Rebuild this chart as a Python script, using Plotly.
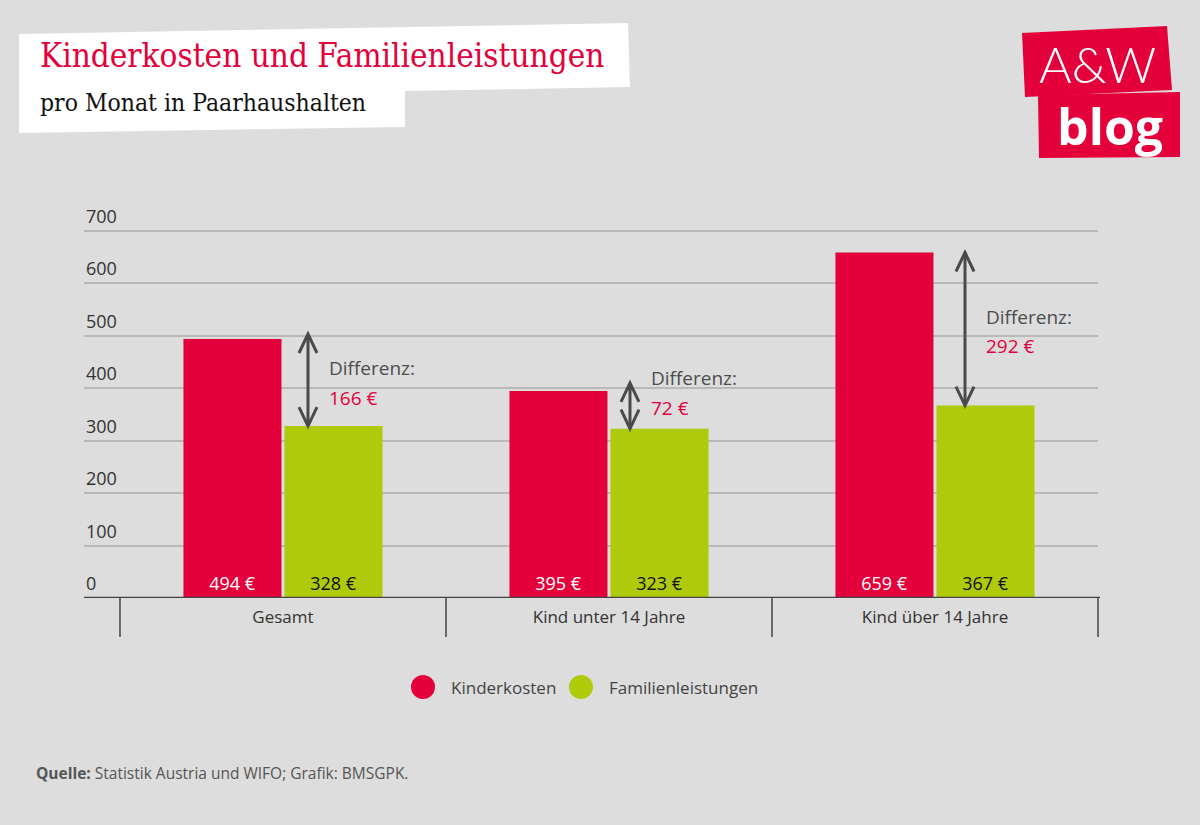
import plotly.graph_objects as go

# ---------------- data ----------------
categories = ["Gesamt", "Kind unter 14 Jahre", "Kind über 14 Jahre"]
kinderkosten = [494, 395, 659]
familienleistungen = [328, 323, 367]
differenz = [166, 72, 292]
y_ticks = [0, 100, 200, 300, 400, 500, 600, 700]
series_names = ["Kinderkosten", "Familienleistungen"]

# ---------------- styles ----------------
W, H = 1200, 825
RED = "#e4003a"
GREEN = "#afca0b"
BG = "#dddddd"
GRID = "#b9b9b9"
DARK = "#444444"
TXT = "#333333"
ARROW = "#4a4a4a"
FONT = "Open Sans"
SERIF = "DejaVu Serif Condensed, Liberation Serif, serif"

X_DOM_PX = (84, 1098)
Y0_PX = 598                    # pixel row of value 0
PX_PER_UNIT = 0.52429          # pixels per value unit
Y_MAX = 710
X_RANGE = [-0.6104, 2.5]
ARROW_DX = [25, 21, 30]        # px offset of arrows from category centre
ARROW_TOP_EXT = [5, 8, 0]      # px the arrow tip sits above the red bar
LABEL_DY = [0, 17, -2]         # px vertical tweak of "Differenz" blocks


def px(x):
    return x / W


def py(y):
    return 1 - y / H


x_idx = list(range(len(categories)))

fig = go.Figure()
fig.add_trace(go.Bar(
    x=x_idx, y=kinderkosten, name=series_names[0], marker_color=RED,
    marker_line_width=0, texttemplate="%{y} €", textposition="inside",
    insidetextanchor="start", textangle=0,
    textfont=dict(color="white", size=18, family=FONT), showlegend=False,
    hoverinfo="skip"))
fig.add_trace(go.Bar(
    x=x_idx, y=familienleistungen, name=series_names[1], marker_color=GREEN,
    marker_line_width=0, texttemplate="%{y} €", textposition="inside",
    insidetextanchor="start", textangle=0,
    textfont=dict(color="#111111", size=18, family=FONT), showlegend=False,
    hoverinfo="skip"))

shapes = []
annotations = []

# title box
shapes.append(dict(type="path", xref="paper", yref="paper", layer="below",
                   path=("M {},{} L {},{} L {},{} L {},{} L {},{} L {},{} Z".format(
                       px(19), py(34), px(628), py(23), px(630), py(87),
                       px(405), py(91), px(405), py(127), px(19), py(133))),
                   fillcolor="white", line_width=0))
# logo boxes
shapes.append(dict(type="path", xref="paper", yref="paper",
                   path="M {},{} L {},{} L {},{} L {},{} Z".format(
                       px(1022), py(33), px(1167), py(26), px(1172), py(90), px(1025), py(97)),
                   fillcolor=RED, line_width=0))
shapes.append(dict(type="path", xref="paper", yref="paper",
                   path="M {},{} L {},{} L {},{} L {},{} Z".format(
                       px(1038), py(95), px(1180), py(92), px(1180), py(157), px(1039), py(158)),
                   fillcolor=RED, line_width=0))

annotations += [
    dict(text="Kinderkosten und Familienleistungen", xref="paper", yref="paper",
         x=px(38), y=py(56), xanchor="left", yanchor="middle", showarrow=False,
         font=dict(family=SERIF, size=33, color=RED)),
    dict(text="pro Monat in Paarhaushalten", xref="paper", yref="paper",
         x=px(38), y=py(102), xanchor="left", yanchor="middle", showarrow=False,
         font=dict(family=SERIF, size=24.5, color="#111111")),
    dict(text="A&amp;W", xref="paper", yref="paper", x=px(1097), y=py(64),
         xanchor="center", yanchor="middle", showarrow=False,
         font=dict(family="Lato", size=50, color="white", weight=300)),
    dict(text="<b>blog</b>", xref="paper", yref="paper", x=px(1110), y=py(126),
         xanchor="center", yanchor="middle", showarrow=False,
         font=dict(family="Open Sans", size=50, color="white")),
]

# y tick labels (above gridlines)
for v in y_ticks:
    annotations.append(dict(text=str(v), xref="paper", yref="y", x=px(X_DOM_PX[0]), y=v,
                            xanchor="left", yanchor="bottom", yshift=1, showarrow=False,
                            font=dict(family=FONT, size=18, color=TXT)))

# baseline
shapes.append(dict(type="line", xref="paper", yref="y", x0=px(X_DOM_PX[0]), x1=px(X_DOM_PX[1] + 2),
                   y0=0, y1=0, line=dict(color=DARK, width=2.5)))
# category separator ticks
span = X_RANGE[1] - X_RANGE[0]
for b in [-0.5, 0.5, 1.5, 2.5]:
    xp = px(X_DOM_PX[0] + (b - X_RANGE[0]) / span * (X_DOM_PX[1] - X_DOM_PX[0]))
    shapes.append(dict(type="line", xref="paper", yref="paper", x0=xp, x1=xp,
                       y0=py(598), y1=py(637), line=dict(color=DARK, width=1.5)))

# difference arrows and labels
for i in x_idx:
    dx = ARROW_DX[i]
    ext = ARROW_TOP_EXT[i]
    top, bot = kinderkosten[i], familienleistungen[i]
    shapes.append(dict(type="line", xref="x", yref="y", xsizemode="pixel", xanchor=i,
                       x0=dx, x1=dx, y0=bot, y1=top, line=dict(color=ARROW, width=3)))
    shapes.append(dict(type="path", xref="x", yref="y", xsizemode="pixel", ysizemode="pixel",
                       xanchor=i, yanchor=top,
                       path="M {},{} L {},{} M {},{} L {},{} L {},{}".format(
                           dx, 0, dx, ext, dx - 9, ext - 19, dx, ext, dx + 9, ext - 19),
                       line=dict(color=ARROW, width=3)))
    shapes.append(dict(type="path", xref="x", yref="y", xsizemode="pixel", ysizemode="pixel",
                       xanchor=i, yanchor=bot,
                       path="M {},{} L {},{} L {},{}".format(dx - 9, 19, dx, 0, dx + 9, 19),
                       line=dict(color=ARROW, width=3)))
    mid = (top + bot) / 2
    annotations.append(dict(text="Differenz:", xref="x", yref="y", x=i, y=mid,
                            xshift=dx + 19, yshift=14.5 + LABEL_DY[i], xanchor="left",
                            yanchor="middle", showarrow=False,
                            font=dict(family=FONT, size=19, color="#4d4d4d")))
    annotations.append(dict(text="{} €".format(differenz[i]), xref="x", yref="y", x=i, y=mid,
                            xshift=dx + 19, yshift=-15 + LABEL_DY[i], xanchor="left",
                            yanchor="middle", showarrow=False,
                            font=dict(family=FONT, size=19, color=RED)))

# legend (drawn manually for large circular markers)
leg = [(423, 449, series_names[0], RED), (581, 607, series_names[1], GREEN)]
for cx, tx, name, col in leg:
    shapes.append(dict(type="circle", xref="paper", yref="paper",
                       x0=px(cx - 12), x1=px(cx + 12), y0=py(687 + 12), y1=py(687 - 12),
                       fillcolor=col, line_width=0))
    annotations.append(dict(text=name, xref="paper", yref="paper", x=px(tx), y=py(687),
                            xanchor="left", yanchor="middle", showarrow=False,
                            font=dict(family=FONT, size=17, color="#444444")))

# source
annotations.append(dict(text="<b>Quelle:</b> Statistik Austria und WIFO; Grafik: BMSGPK.",
                        xref="paper", yref="paper", x=px(34), y=py(773), xanchor="left",
                        yanchor="middle", showarrow=False,
                        font=dict(family=FONT, size=15.5, color="#555555")))

fig.update_layout(
    width=W, height=H, margin=dict(l=0, r=0, t=0, b=0),
    paper_bgcolor=BG, plot_bgcolor=BG,
    barmode="group", bargap=0.38, bargroupgap=0.03,
    font=dict(family=FONT, color=TXT),
    shapes=shapes, annotations=annotations, showlegend=False,
    xaxis=dict(domain=[px(X_DOM_PX[0]), px(X_DOM_PX[1])], range=X_RANGE,
               tickvals=x_idx, ticktext=categories, ticks="", showgrid=False,
               zeroline=False, showline=False, ticklabelstandoff=7,
               tickfont=dict(family=FONT, size=17, color=TXT)),
    yaxis=dict(domain=[py(Y0_PX), py(Y0_PX - Y_MAX * PX_PER_UNIT)], range=[0, Y_MAX],
               tickvals=y_ticks, showticklabels=False, ticks="",
               showgrid=True, gridcolor=GRID, gridwidth=1.5, zeroline=False,
               showline=False),
)

fig.write_html("out.html", config={"displayModeBar": False},
               post_script="document.body.style.margin='0';document.body.style.overflow='hidden';")
